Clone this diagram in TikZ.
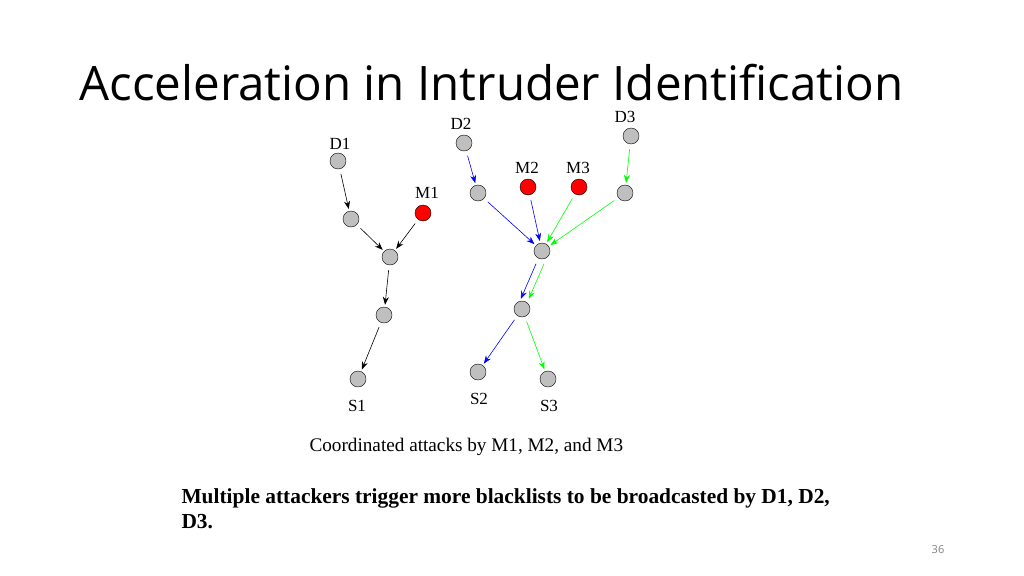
\documentclass[tikz,border=0pt]{standalone}
\usetikzlibrary{arrows.meta}
\usepackage{fontspec}
\setmainfont{Liberation Serif}
\newfontfamily\titlefont{Open Sans}
\begin{document}
\begin{tikzpicture}[x=1pt,y=-1pt,
  nd/.style={circle,draw=black,fill=gray!50,minimum size=16pt,inner sep=0pt},
  rd/.style={nd,fill=red},
  lb/.style={font=\fontsize{17}{17}\selectfont},
  ar/.style={-{Stealth[length=8pt,width=6pt]},shorten <=5pt,shorten >=2pt,line width=0.6pt}]
\useasboundingbox (0,0) rectangle (1024,575);
\node[anchor=base west,font=\titlefont\fontsize{47.5}{47.5}\selectfont] (title) at (76,101) {Acceleration in Intruder Identification};
\node[nd] (d1) at (338,161) {};
\node[nd] (n1) at (351,219) {};
\node[rd] (m1) at (423,213) {};
\node[nd] (n2) at (390,257) {};
\node[nd] (n3) at (384,315) {};
\node[nd] (s1) at (358,379) {};
\node[nd] (d2) at (464,143) {};
\node[nd] (n4) at (478,193) {};
\node[rd] (m2) at (528,187) {};
\node[rd] (m3) at (579,187) {};
\node[nd] (d3) at (631,136) {};
\node[nd] (n5) at (625,193) {};
\node[nd] (n6) at (542,251) {};
\node[nd] (n7) at (522,309) {};
\node[nd] (s2) at (478,372) {};
\node[nd] (s3) at (548,379) {};
\node[lb] (ld1) at (340,144) {D1};
\node[lb] (lm1) at (427,193) {M1};
\node[lb] (ls1) at (357,406) {S1};
\node[lb] (ld2) at (461,124) {D2};
\node[lb] (lm2) at (527,168) {M2};
\node[lb] (lm3) at (578,168) {M3};
\node[lb] (ld3) at (625,117) {D3};
\node[lb] (ls2) at (479,399) {S2};
\node[lb] (ls3) at (549,406) {S3};
\draw[ar] (d1) -- (n1);
\draw[ar] (n1) -- (n2);
\draw[ar] (m1) -- (n2);
\draw[ar] (n2) -- (n3);
\draw[ar] (n3) -- (s1);
\draw[ar,blue] (d2) -- (n4);
\draw[ar,blue] (n4) -- (n6);
\draw[ar,blue] (m2) -- (n6);
\draw[ar,green] (m3) -- (n6);
\draw[ar,green] (n5) -- (n6);
\draw[ar,green] (d3) -- (n5);
\draw[ar,blue] ([xshift=-4pt]n6.south) -- ([xshift=-2pt]n7.north);
\draw[ar,green] ([xshift=4pt]n6.south) -- ([xshift=6pt]n7.north);
\draw[ar,blue] (n7) -- (s2);
\draw[ar,green] (n7) -- (s3);
\node[anchor=base west,font=\fontsize{19.2}{19.2}\selectfont] (cap) at (306,451) {Coordinated attacks by M1, M2, and M3};
\node[anchor=base west,font=\bfseries\fontsize{21.4}{21.4}\selectfont] (b1) at (178,503) {Multiple attackers trigger more blacklists to be broadcasted by D1, D2,};
\node[anchor=base west,font=\bfseries\fontsize{21.4}{21.4}\selectfont] (b2) at (178,528) {D3.};
\node[anchor=base,font=\titlefont\fontsize{11}{11}\selectfont,text=gray] (pg) at (938,553) {36};
\end{tikzpicture}
\end{document}
